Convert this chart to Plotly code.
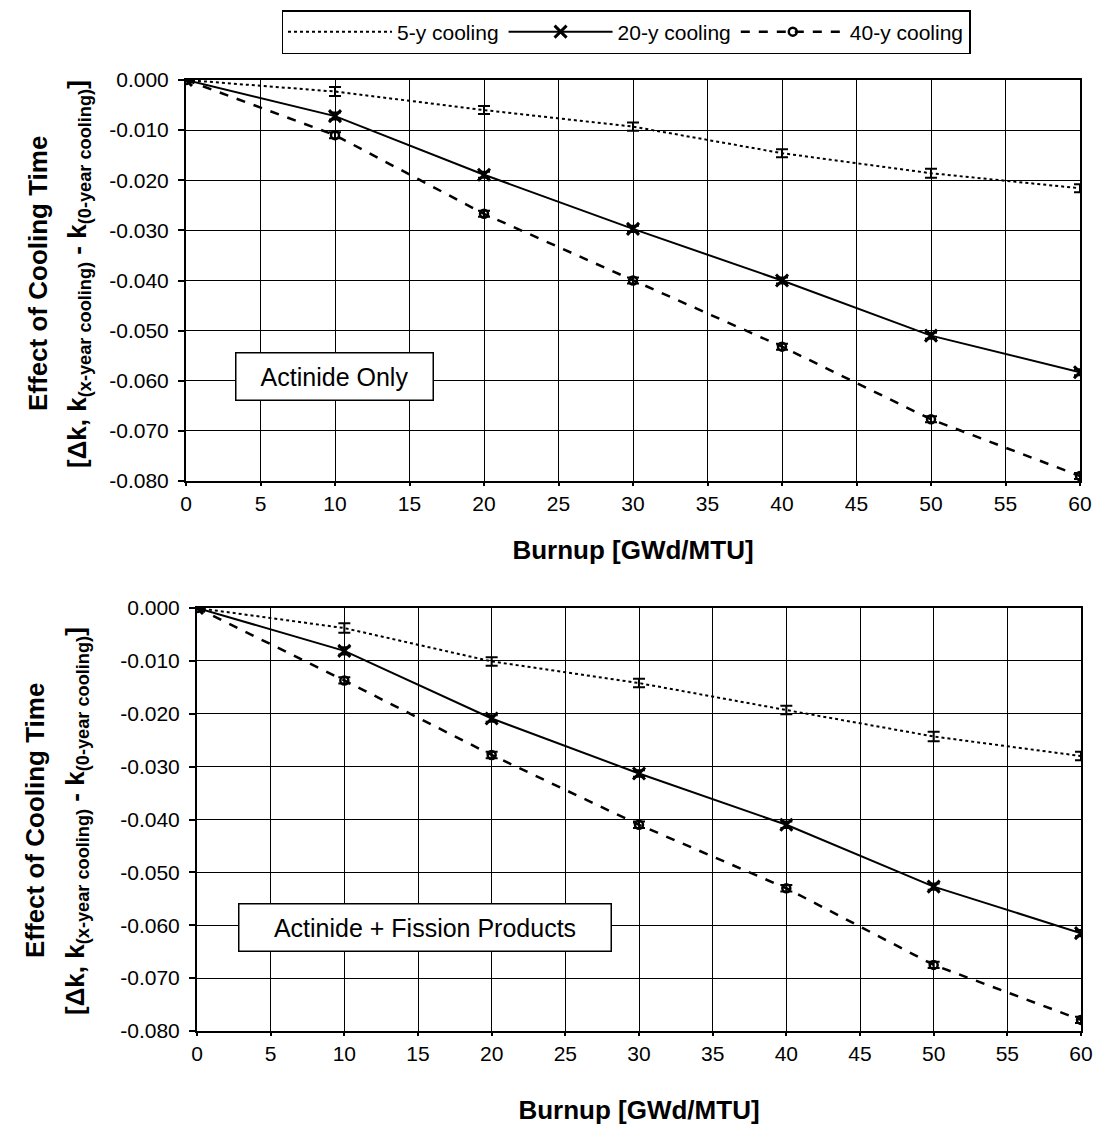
import plotly.graph_objects as go

burnup = [0, 10, 20, 30, 40, 50, 60]

# Actinide only (top panel)
act_5y = [0.0, -0.0023, -0.0060, -0.0093, -0.0146, -0.0186, -0.0216]
act_20y = [0.0, -0.0072, -0.0189, -0.0297, -0.0400, -0.0510, -0.0583]
act_40y = [0.0, -0.0110, -0.0267, -0.0400, -0.0532, -0.0677, -0.0790]

# Actinide + fission products (bottom panel)
afp_5y = [0.0, -0.0038, -0.0101, -0.0142, -0.0193, -0.0243, -0.0280]
afp_20y = [0.0, -0.0081, -0.0209, -0.0313, -0.0410, -0.0527, -0.0615]
afp_40y = [0.0, -0.0137, -0.0278, -0.0410, -0.0530, -0.0675, -0.0779]

err_5y = [0.0, 0.0009, 0.0008, 0.0008, 0.0008, 0.0009, 0.0008]
err_20y = [0.0, 0.0007, 0.0006, 0.0006, 0.0006, 0.0006, 0.0006]
err_40y = [0.0, 0.0006, 0.0006, 0.0006, 0.0006, 0.0006, 0.0006]

series_names = ["5-y cooling", "20-y cooling", "40-y cooling"]
x_ticks = list(range(0, 61, 5))
y_ticks = [0.0, -0.01, -0.02, -0.03, -0.04, -0.05, -0.06, -0.07, -0.08]
y_ticklabels = ["0.000", "-0.010", "-0.020", "-0.030", "-0.040", "-0.050", "-0.060", "-0.070", "-0.080"]
panel_labels = ["Actinide Only", "Actinide + Fission Products"]

FONT = "Liberation Sans, Arial, Helvetica, sans-serif"
OFF = 8  # default page body margin
W, H = 1101 - 2 * OFF, 1133 - 2 * OFF

def fx(px):
    return (px - OFF) / W

def fy(py):
    return 1 - (py - OFF) / H

fig = go.Figure()

styles = [
    dict(line=dict(color="black", width=2, dash="dot"), mode="lines",
         marker=dict(size=1, color="black")),
    dict(line=dict(color="black", width=2), mode="lines+markers",
         marker=dict(symbol="x-thin-open", size=12, color="black", line=dict(width=3, color="black"))),
    dict(line=dict(color="black", width=2.5, dash="dash"), mode="lines+markers",
         marker=dict(symbol="circle-open", size=8, color="black", line=dict(width=2.5, color="black"))),
]
errs = [err_5y, err_20y, err_40y]

panels = [(act_5y, act_20y, act_40y), (afp_5y, afp_20y, afp_40y)]
for p, data in enumerate(panels):
    xa = "x" if p == 0 else "x2"
    ya = "y" if p == 0 else "y2"
    for i, vals in enumerate(data):
        fig.add_trace(go.Scatter(
            x=burnup, y=vals, name=series_names[i], xaxis=xa, yaxis=ya,
            showlegend=(p == 0),
            error_y=dict(type="data", array=errs[i], color="black", thickness=2, width=6),
            **styles[i]))

axis_common = dict(
    showline=True, linecolor="black", linewidth=2, mirror=True,
    showgrid=True, gridcolor="black", gridwidth=1.3,
    zeroline=False, ticks="outside", tickcolor="black", tickwidth=1.5,
    tickfont=dict(family=FONT, size=21, color="black"), automargin=False,
)
xcommon = dict(axis_common, ticklen=3, range=[0, 60], tickvals=x_ticks)
ycommon = dict(axis_common, ticklen=6, ticklabelstandoff=5, range=[-0.08, 0.0],
               tickvals=y_ticks, ticktext=y_ticklabels)

def xtitle(standoff):
    return dict(text="<b>Burnup [GWd/MTU]</b>", font=dict(size=26, family=FONT, color="black"),
                standoff=standoff)

fig.update_layout(
    width=W, height=H,
    margin=dict(l=0, r=0, t=0, b=0, autoexpand=False),
    paper_bgcolor="white", plot_bgcolor="white",
    font=dict(family=FONT, color="black"),
    xaxis=dict(domain=[fx(186), fx(1080)], anchor="y", title=xtitle(27), **xcommon),
    yaxis=dict(domain=[fy(481), fy(80)], anchor="x", **ycommon),
    xaxis2=dict(domain=[fx(197), fx(1081)], anchor="y2", title=xtitle(39), **xcommon),
    yaxis2=dict(domain=[fy(1031), fy(608)], anchor="x2", **ycommon),
    legend=dict(orientation="h", x=fx(626), xanchor="center", y=fy(10), yanchor="top",
                bordercolor="black", borderwidth=1.5, bgcolor="white",
                font=dict(family=FONT, size=21, color="black"), itemwidth=104,
                tracegroupgap=0),
)

# Y-axis titles (two lines each)
ytitle1 = "<b>Effect of Cooling Time</b>"
ytitle2 = "<b>[Δk, k<sub>(x-year cooling)</sub> - k<sub>(0-year cooling)</sub>]</b>"
for cx1, cx2, cy in [(38, 78, 274), (35, 76, 821)]:
    fig.add_annotation(x=fx(cx1), y=fy(cy), xref="paper", yref="paper", text=ytitle1,
                       textangle=-90, showarrow=False, font=dict(family=FONT, size=26, color="black"),
                       xanchor="center", yanchor="middle")
    fig.add_annotation(x=fx(cx2), y=fy(cy), xref="paper", yref="paper", text=ytitle2,
                       textangle=-90, showarrow=False, font=dict(family=FONT, size=26, color="black"),
                       xanchor="center", yanchor="middle")

# Panel label boxes
fig.add_annotation(x=fx(334), y=fy(376), xref="paper", yref="paper", text=panel_labels[0],
                   showarrow=False, font=dict(family=FONT, size=25, color="black"),
                   xanchor="center", yanchor="middle", width=180, height=30,
                   bordercolor="black", borderwidth=1.5, borderpad=8, bgcolor="white")
fig.add_annotation(x=fx(425), y=fy(927), xref="paper", yref="paper", text=panel_labels[1],
                   showarrow=False, font=dict(family=FONT, size=25, color="black"),
                   xanchor="center", yanchor="middle", width=355, height=30,
                   bordercolor="black", borderwidth=1.5, borderpad=8, bgcolor="white")

fig.write_html("out.html")
